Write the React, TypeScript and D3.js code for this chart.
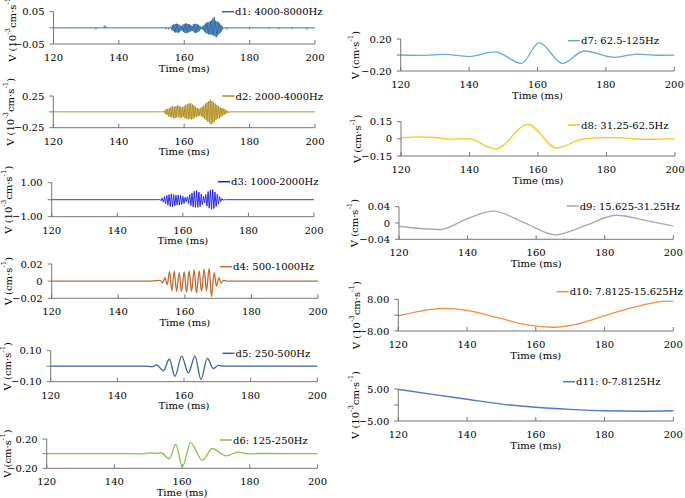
import React, { useEffect, useRef } from "react";
import * as d3 from "d3";

type Pt = [number, number];

const timeTicks = [120, 140, 160, 180, 200];

const names = [
  "d1: 4000-8000Hz",
  "d2: 2000-4000Hz",
  "d3: 1000-2000Hz",
  "d4: 500-1000Hz",
  "d5: 250-500Hz",
  "d6: 125-250Hz",
  "d7: 62.5-125Hz",
  "d8: 31.25-62.5Hz",
  "d9: 15.625-31.25Hz",
  "d10: 7.8125-15.625Hz",
  "d11: 0-7.8125Hz",
];
const yMax = [0.05, 0.25, 1, 0.02, 0.1, 0.2, 0.2, 0.15, 0.04, 8, 5];
const showZero = [false, false, false, true, false, false, false, true, true, false, false];
const scaledUnit = [true, true, true, false, false, false, false, false, false, true, true];
const colors = [
  "#2C69A3", "#AE8A17", "#1818F2", "#C4692F", "#3E5E9F", "#84C24C",
  "#6EA7DD", "#FFC312", "#A9A9A9", "#F38D3C", "#4C79CF",
];

// d1 burst, sampled every 0.2 ms from 156 ms
const d1Burst = [
  0.004, -0.006, 0.008, -0.01, 0.011, -0.013, 0.012, -0.015, 0.013, -0.014,
  0.012, -0.016, 0.01, -0.012, 0.007, -0.008, 0.006, -0.009, 0.01, -0.013,
  0.012, -0.016, 0.014, -0.017, 0.013, -0.015, 0.012, -0.014, 0.011, -0.012,
  0.008, -0.009, 0.006, -0.01, 0.011, -0.014, 0.013, -0.016, 0.012, -0.015,
  0.011, -0.013, 0.009, -0.01, 0.006, -0.005, 0.003, -0.004, 0.004, -0.007,
  0.008, -0.011, 0.013, -0.016, 0.016, -0.018, 0.017, -0.02, 0.018, -0.019,
  0.02, -0.022, 0.024, -0.021, 0.03, -0.024, 0.033, -0.026, 0.022, -0.03,
  0.02, -0.024, 0.018, -0.02, 0.014, -0.016, 0.01, -0.011, 0.005, -0.004,
];
const d1SpikeTimes = [133, 135.5, 136, 154.4, 155.2, 173, 180, 186, 189, 193, 197.5];
const d1SpikeValues = [-0.005, 0.007, 0.007, -0.005, -0.005, -0.005, -0.005, -0.004, -0.004, -0.004, -0.005];

// d2 burst, sampled every 0.25 ms from 154 ms
const d2Burst = [
  0.02, -0.03, 0.04, -0.05, 0.05, -0.07, 0.06, -0.08,
  0.08, -0.09, 0.09, -0.1, 0.08, -0.1, 0.09, -0.09,
  0.1, -0.08, 0.09, -0.1, 0.08, -0.09, 0.07, -0.08,
  0.09, -0.1, 0.11, -0.11, 0.12, -0.12, 0.13, -0.11,
  0.14, -0.12, 0.12, -0.11, 0.1, -0.09, 0.08, -0.08,
  0.06, -0.07, 0.05, -0.06, 0.06, -0.07, 0.08, -0.09,
  0.1, -0.11, 0.13, -0.13, 0.15, -0.16, 0.17, -0.18,
  0.19, -0.2, 0.17, -0.18, 0.15, -0.16, 0.13, -0.13,
  0.11, -0.11, 0.09, -0.1, 0.07, -0.08, 0.06, -0.06,
  0.05, -0.05, 0.04, -0.03, 0.02, -0.02, 0.01, -0.01,
];
const d2SpikeTimes = [182];
const d2SpikeValues = [0.012];

// d3 burst, sampled every 0.35 ms from 153 ms
const d3Burst = [
  0.03, -0.06, 0.1, -0.15, 0.18, -0.24, 0.25, -0.32, 0.3, -0.4,
  0.35, -0.42, 0.3, -0.36, 0.26, -0.3, 0.28, -0.32, 0.25, -0.28,
  0.2, -0.22, 0.14, -0.12, 0.18, -0.22, 0.3, -0.34, 0.4, -0.42,
  0.5, -0.46, 0.55, -0.45, 0.45, -0.4, 0.32, -0.28, 0.2, -0.18,
  0.3, -0.38, 0.48, -0.5, 0.58, -0.56, 0.6, -0.52, 0.45, -0.4,
  0.32, -0.26, 0.18, -0.12, 0.07, -0.04, 0.02, -0.01,
];

const d4: Pt[] = [
  [120, 0], [150, 0], [152.6, 0.001], [153.3, -0.002], [154.0, 0.004], [154.7, -0.004],
  [155.4, 0.011], [156.1, -0.011], [156.8, 0.012], [157.5, -0.012], [158.3, 0.01],
  [159.0, -0.012], [159.8, 0.011], [160.5, -0.013], [161.3, 0.012], [162.0, -0.012],
  [162.8, 0.013], [163.5, -0.014], [164.3, 0.012], [165.0, -0.012], [165.8, 0.014],
  [166.5, -0.011], [167.3, 0.015], [168.0, -0.018], [168.8, 0.01], [169.5, -0.006],
  [170.2, 0.004], [170.9, -0.002], [171.6, 0.001], [172.5, 0], [200, 0],
];
const d5: Pt[] = [
  [120, 0], [148, 0], [150.5, -0.003], [151.8, 0.008], [153.8, -0.03], [155.6, 0.045],
  [157.3, -0.065], [159.3, 0.065], [161.3, -0.043], [163.3, 0.065], [165.1, -0.086],
  [167.0, 0.05], [168.8, -0.015], [170.3, 0.005], [172, 0], [200, 0],
];
const d6: Pt[] = [
  [120, 0], [145, 0], [148, -0.004], [150.5, 0.01], [152.3, 0.002], [153.8, 0.012],
  [156.2, -0.07], [158.1, 0.125], [160.1, -0.175], [162.5, 0.15], [166.0, -0.09],
  [168.9, 0.07], [173.1, -0.03], [176.5, 0.02], [180, -0.003], [183, 0.002], [200, 0],
];
const d7: Pt[] = [
  [120, 0], [126, -0.004], [133, 0.008], [140, -0.02], [147.6, 0.04], [155.3, -0.105],
  [160.5, 0.155], [167.3, -0.105], [173.6, 0.05], [182.6, -0.03], [189, 0.012],
  [195, -0.003], [200, -0.002],
];
const d8: Pt[] = [
  [120, 0.01], [125, 0.018], [130, 0.012], [135, -0.003], [139.5, 0.002], [147.6, -0.088],
  [157.1, 0.127], [165.4, -0.08], [173, -0.003], [180, 0.01], [185, 0.008], [190, -0.004],
  [195, -0.003], [200, 0],
];
const d9: Pt[] = [
  [120, -0.008], [132, -0.016], [140, 0.011], [147.5, 0.029], [156.5, 0.001],
  [165.5, -0.029], [174.5, -0.006], [183.4, 0.019], [192, 0.006], [200, -0.007],
];
const d10: Pt[] = [
  [120, -0.3], [127, 2.2], [133.1, 3.45], [140, 2.4], [149, -1.3], [157, -4.8],
  [165, -6.1], [172, -4.5], [180, -0.3], [188, 3.8], [195, 6.5], [198, 7.1], [200, 7.0],
];
const d11: Pt[] = [
  [120, 4.9], [130, 3.3], [140, 1.8], [150, 0.3], [160, -0.7], [170, -1.35],
  [180, -1.8], [190, -1.95], [200, -1.8],
];

const sampled = (start: number, step: number, vals: number[]): Pt[] =>
  vals.map((v, i) => [start + i * step, v]);

const series: Pt[][] = [
  [[120, 0], [155.8, 0], ...sampled(156, 0.2, d1Burst), [172, 0], [200, 0]],
  [[120, 0], [153.8, 0], ...sampled(154, 0.25, d2Burst), [174, 0], [200, 0]],
  [[120, 0], [152.8, 0], ...sampled(153, 0.35, d3Burst), [173.3, 0], [200, 0]],
  d4, d5, d6, d7, d8, d9, d10, d11,
];
const spikeTimes = [d1SpikeTimes, d2SpikeTimes];
const spikeValues = [d1SpikeValues, d2SpikeValues];

// panel boxes on the page
const layout = [
  { x0: 53.5, x1: 315, top: 11.7, bot: 44, legX: 222, legY: 11.7, labX: 11.7 },
  { x0: 53.3, x1: 315, top: 96, bot: 127.7, legX: 222.5, legY: 96, labX: 10 },
  { x0: 51.7, x1: 314, top: 182.7, bot: 216.7, legX: 218, legY: 181.7, labX: 7.5 },
  { x0: 51.7, x1: 318, top: 264, bot: 298.3, legX: 220, legY: 266.7, labX: 7.5 },
  { x0: 50.7, x1: 317.3, top: 350.7, bot: 381.7, legX: 222.5, legY: 353.3, labX: 7 },
  { x0: 46.7, x1: 317.5, top: 439, bot: 468.3, legX: 220, legY: 440, labX: 6.5 },
  { x0: 400.7, x1: 674.3, top: 39, bot: 71, legX: 568, legY: 40.7, labX: 355 },
  { x0: 401, x1: 675, top: 121.7, bot: 156, legX: 568, legY: 125, labX: 356.7 },
  { x0: 399, x1: 673.3, top: 206.7, bot: 239.3, legX: 566.7, legY: 206, labX: 354 },
  { x0: 398.3, x1: 673.3, top: 299.3, bot: 331, legX: 556.7, legY: 291.7, labX: 356 },
  { x0: 398.3, x1: 673.3, top: 389, bot: 421, legX: 563, legY: 381.7, labX: 355 },
];

const FONT = "DejaVu Serif";

export default function App() {
  const ref = useRef<SVGSVGElement>(null);

  useEffect(() => {
    const svg = d3
      .select(ref.current)
      .attr("width", 685)
      .attr("height", 498)
      .attr("font-family", FONT);
    svg.selectAll("*").remove();
    svg.append("rect").attr("width", 685).attr("height", 498).attr("fill", "#fff");

    const fmt = d3.format(".2f");

    layout.forEach((b, i) => {
      const g = svg.append("g");
      const x = d3.scaleLinear().domain([120, 200]).range([b.x0, b.x1]);
      const y = d3.scaleLinear().domain([-yMax[i], yMax[i]]).range([b.bot, b.top]);
      const axisColor = "#666";
      const label = (px: number, py: number, s: string, anchor = "middle") =>
        g.append("text")
          .attr("x", px).attr("y", py)
          .attr("font-family", FONT).attr("font-size", 10)
          .attr("text-anchor", anchor).attr("dominant-baseline", "central")
          .text(s);

      // series line
      const line = d3
        .line<Pt>()
        .x((d) => x(d[0]))
        .y((d) => y(d[1]))
        .curve(i < 3 ? d3.curveLinear : d3.curveMonotoneX);
      g.append("path")
        .attr("d", line(series[i]))
        .attr("fill", "none")
        .attr("stroke", colors[i])
        .attr("stroke-width", i < 3 ? 0.9 : 1.3);

      if (spikeTimes[i]) {
        g.selectAll("line.spike")
          .data(spikeTimes[i])
          .enter()
          .append("line")
          .attr("x1", (t) => x(t))
          .attr("x2", (t) => x(t))
          .attr("y1", y(0))
          .attr("y2", (_t, k) => y(spikeValues[i][k]))
          .attr("stroke", colors[i])
          .attr("stroke-width", 1);
      }

      // x axis
      g.append("line")
        .attr("x1", b.x0).attr("x2", b.x1)
        .attr("y1", b.bot).attr("y2", b.bot)
        .attr("stroke", axisColor).attr("stroke-width", 0.9);
      timeTicks.forEach((t) => {
        g.append("line")
          .attr("x1", x(t)).attr("x2", x(t))
          .attr("y1", b.bot).attr("y2", b.bot - 4)
          .attr("stroke", axisColor).attr("stroke-width", 0.9);
        label(x(t), b.bot + 13.5, String(t));
      });
      label((b.x0 + b.x1) / 2, b.bot + 24, "Time (ms)");

      // y axis
      g.append("line")
        .attr("x1", b.x0).attr("x2", b.x0)
        .attr("y1", b.top).attr("y2", b.bot)
        .attr("stroke", axisColor).attr("stroke-width", 0.9);
      [yMax[i], 0, -yMax[i]].forEach((v) => {
        g.append("line")
          .attr("x1", b.x0 - 4).attr("x2", b.x0)
          .attr("y1", y(v)).attr("y2", y(v))
          .attr("stroke", axisColor).attr("stroke-width", 0.9);
        if (v !== 0 || showZero[i]) {
          label(b.x0 - 9, y(v), v === 0 ? "0" : fmt(v), "end");
        }
      });

      // y title
      const cy = (b.top + b.bot) / 2;
      const yt = g.append("text")
        .attr("transform", `translate(${b.labX},${cy}) rotate(-90)`)
        .attr("font-family", FONT).attr("font-size", 10)
        .attr("text-anchor", "middle").attr("dominant-baseline", "central");
      if (scaledUnit[i]) {
        yt.append("tspan").text("V (10");
        yt.append("tspan").attr("font-size", 7).attr("dy", -4).text("-3");
        yt.append("tspan").attr("dy", 4).text("cm·s");
      } else {
        yt.append("tspan").text("V (cm·s");
      }
      yt.append("tspan").attr("font-size", 7).attr("dy", -4).text("-1");
      yt.append("tspan").attr("dy", 4).text(")");

      // legend
      g.append("line")
        .attr("x1", b.legX).attr("x2", b.legX + 12)
        .attr("y1", b.legY).attr("y2", b.legY)
        .attr("stroke", colors[i]).attr("stroke-width", 1.5);
      label(b.legX + 13, b.legY, names[i], "start");
    });
  }, []);

  return (
    <div style={{ position: "absolute", left: 0, top: 0 }}>
      <svg ref={ref} style={{ display: "block" }} />
    </div>
  );
}
